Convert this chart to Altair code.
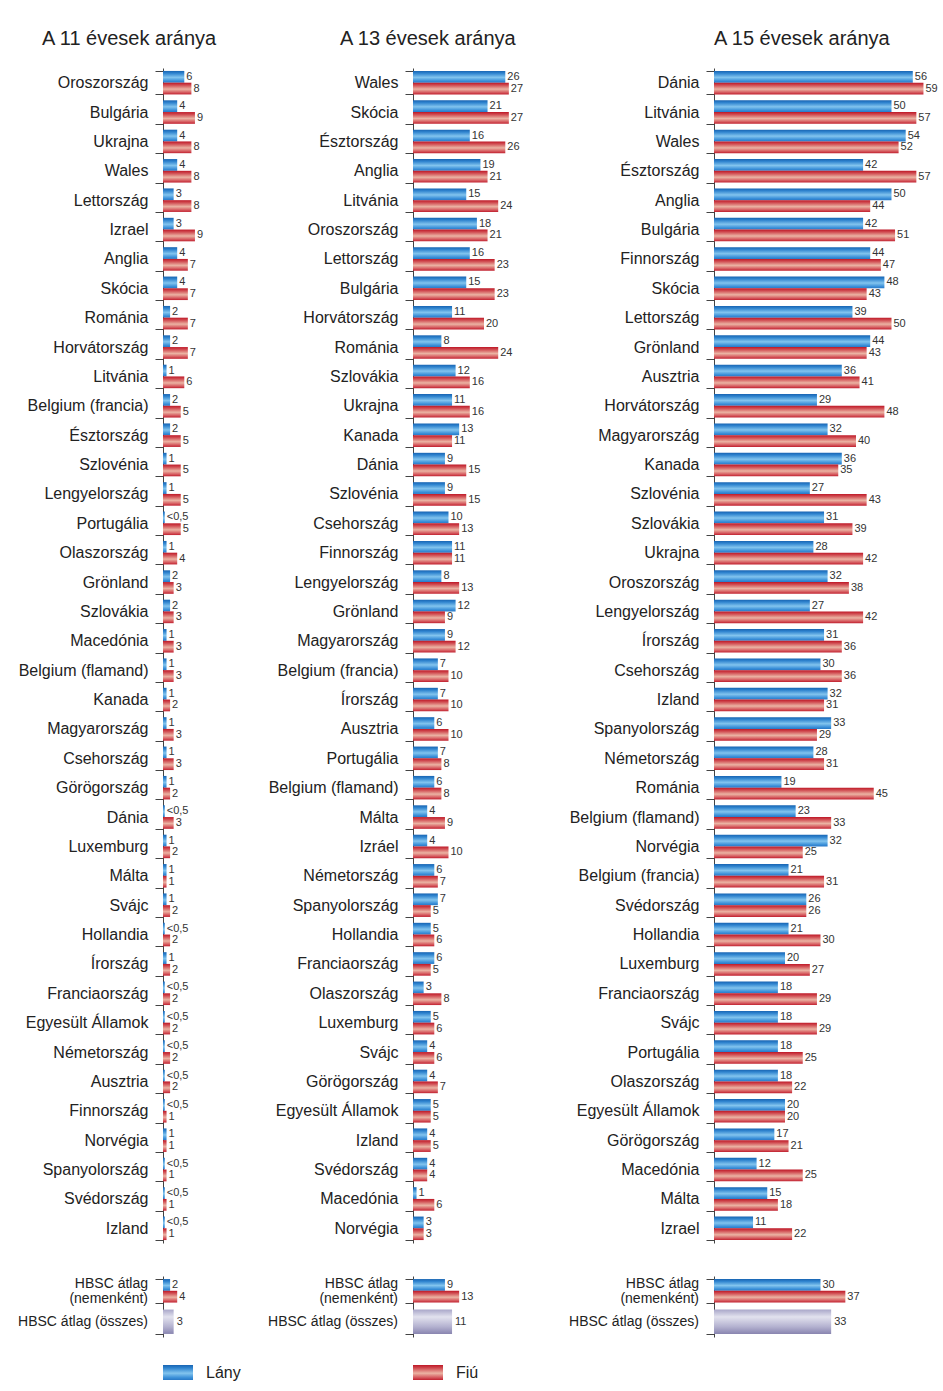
import altair as alt
import pandas as pd

FONT = "Liberation Sans"
LT = "<0,5"
GENDERS = ["Lány", "Fiú"]

titles = ["A 11 évesek aránya", "A 13 évesek aránya", "A 15 évesek aránya"]

c11 = ["Oroszország", "Bulgária", "Ukrajna", "Wales", "Lettország", "Izrael", "Anglia", "Skócia",
       "Románia", "Horvátország", "Litvánia", "Belgium (francia)", "Észtország", "Szlovénia",
       "Lengyelország", "Portugália", "Olaszország", "Grönland", "Szlovákia", "Macedónia",
       "Belgium (flamand)", "Kanada", "Magyarország", "Csehország", "Görögország", "Dánia",
       "Luxemburg", "Málta", "Svájc", "Hollandia", "Írország", "Franciaország", "Egyesült Államok",
       "Németország", "Ausztria", "Finnország", "Norvégia", "Spanyolország", "Svédország", "Izland"]
girls11 = [6, 4, 4, 4, 3, 3, 4, 4, 2, 2, 1, 2, 2, 1, 1, LT, 1, 2, 2, 1,
           1, 1, 1, 1, 1, LT, 1, 1, 1, LT, 1, LT, LT, LT, LT, LT, 1, LT, LT, LT]
boys11 = [8, 9, 8, 8, 8, 9, 7, 7, 7, 7, 6, 5, 5, 5, 5, 5, 4, 3, 3, 3,
          3, 2, 3, 3, 2, 3, 2, 1, 2, 2, 2, 2, 2, 2, 2, 1, 1, 1, 1, 1]

c13 = ["Wales", "Skócia", "Észtország", "Anglia", "Litvánia", "Oroszország", "Lettország", "Bulgária",
       "Horvátország", "Románia", "Szlovákia", "Ukrajna", "Kanada", "Dánia", "Szlovénia", "Csehország",
       "Finnország", "Lengyelország", "Grönland", "Magyarország", "Belgium (francia)", "Írország",
       "Ausztria", "Portugália", "Belgium (flamand)", "Málta", "Izráel", "Németország", "Spanyolország",
       "Hollandia", "Franciaország", "Olaszország", "Luxemburg", "Svájc", "Görögország",
       "Egyesült Államok", "Izland", "Svédország", "Macedónia", "Norvégia"]
girls13 = [26, 21, 16, 19, 15, 18, 16, 15, 11, 8, 12, 11, 13, 9, 9, 10, 11, 8, 12, 9,
           7, 7, 6, 7, 6, 4, 4, 6, 7, 5, 6, 3, 5, 4, 4, 5, 4, 4, 1, 3]
boys13 = [27, 27, 26, 21, 24, 21, 23, 23, 20, 24, 16, 16, 11, 15, 15, 13, 11, 13, 9, 12,
          10, 10, 10, 8, 8, 9, 10, 7, 5, 6, 5, 8, 6, 6, 7, 5, 5, 4, 6, 3]

c15 = ["Dánia", "Litvánia", "Wales", "Észtország", "Anglia", "Bulgária", "Finnország", "Skócia",
       "Lettország", "Grönland", "Ausztria", "Horvátország", "Magyarország", "Kanada", "Szlovénia",
       "Szlovákia", "Ukrajna", "Oroszország", "Lengyelország", "Írország", "Csehország", "Izland",
       "Spanyolország", "Németország", "Románia", "Belgium (flamand)", "Norvégia", "Belgium (francia)",
       "Svédország", "Hollandia", "Luxemburg", "Franciaország", "Svájc", "Portugália", "Olaszország",
       "Egyesült Államok", "Görögország", "Macedónia", "Málta", "Izrael"]
girls15 = [56, 50, 54, 42, 50, 42, 44, 48, 39, 44, 36, 29, 32, 36, 27, 31, 28, 32, 27, 31,
           30, 32, 33, 28, 19, 23, 32, 21, 26, 21, 20, 18, 18, 18, 18, 20, 17, 12, 15, 11]
boys15 = [59, 57, 52, 57, 44, 51, 47, 43, 50, 43, 41, 48, 40, 35, 43, 39, 42, 38, 42, 36,
          36, 31, 29, 31, 45, 33, 25, 31, 26, 30, 27, 29, 29, 25, 22, 20, 21, 25, 18, 22]

hbsc_cats = ["HBSC átlag|(nemenként)", "HBSC átlag (összes)"]
hbsc_girls = [2, 9, 30]
hbsc_boys = [4, 13, 37]
hbsc_total = [3, 11, 33]

# ---- layout (pixels) ----
PX = 3.55                 # pixels per percentage point
MAIN_H = 1175
HB_H = 61
widths = [70, 120, 220]
extents = [148, 170, 171]
title_dx = [-121, -73, 0]

BLUE = alt.Gradient(gradient="linear", x1=0, x2=0, y1=0, y2=1, stops=[
    alt.GradientStop(color="#1864b2", offset=0),
    alt.GradientStop(color="#2f84cf", offset=0.2),
    alt.GradientStop(color="#82c4ee", offset=0.55),
    alt.GradientStop(color="#3a8fd8", offset=0.85),
    alt.GradientStop(color="#2878c6", offset=1)])
RED = alt.Gradient(gradient="linear", x1=0, x2=0, y1=0, y2=1, stops=[
    alt.GradientStop(color="#be1826", offset=0),
    alt.GradientStop(color="#d04a50", offset=0.2),
    alt.GradientStop(color="#ebb3a3", offset=0.55),
    alt.GradientStop(color="#d4545a", offset=0.85),
    alt.GradientStop(color="#c0202e", offset=1)])
GREY = alt.Gradient(gradient="linear", x1=0, x2=0, y1=0, y2=1, stops=[
    alt.GradientStop(color="#a9a7c9", offset=0),
    alt.GradientStop(color="#e2e2ee", offset=0.3),
    alt.GradientStop(color="#b4b2d0", offset=0.7),
    alt.GradientStop(color="#8985b0", offset=1)])


def num(v):
    return 0.5 if v == LT else v


def lab(v):
    return LT if v == LT else str(v)


def yaxis(extent, labels=True):
    return alt.Axis(title=None, tickBand="extent", tickSize=8, labelPadding=7, labelFontSize=16,
                    labelFont=FONT, labelColor="#222", domainColor="#444", tickColor="#444",
                    minExtent=extent, maxExtent=extent, labelLimit=170, grid=False, labels=labels)


def xenc(width):
    return alt.X("value:Q", scale=alt.Scale(domain=[0, width / PX], nice=False, zero=True), axis=None)


yoff = alt.YOffset("gender:N", sort=GENDERS,
                   scale=alt.Scale(domain=GENDERS, paddingInner=0, paddingOuter=0))


def main_panel(i, countries, girls, boys):
    rows = []
    for c, g, b in zip(countries, girls, boys):
        rows.append(dict(country=c, gender="Lány", value=num(g), label=lab(g)))
        rows.append(dict(country=c, gender="Fiú", value=num(b), label=lab(b)))
    df = pd.DataFrame(rows)
    base = alt.Chart(df).encode(
        y=alt.Y("country:N", sort=countries, scale=alt.Scale(paddingInner=0.2, paddingOuter=0.1),
                axis=yaxis(extents[i])),
        x=xenc(widths[i]),
        yOffset=yoff,
    )
    blue = base.transform_filter(alt.datum.gender == "Lány").mark_bar(fill=BLUE, strokeWidth=0)
    red = base.transform_filter(alt.datum.gender == "Fiú").mark_bar(fill=RED, strokeWidth=0)
    txt = base.mark_text(align="left", baseline="middle", dx=2, fontSize=11, font=FONT,
                         color="#333").encode(text="label:N")
    return alt.layer(blue, red, txt).properties(
        width=widths[i], height=MAIN_H,
        title=alt.Title(titles[i], anchor="start", frame="group", dx=title_dx[i], fontSize=20,
                        font=FONT, fontWeight="normal", color="#222", offset=11))


def hbsc_panel(i):
    df = pd.DataFrame([
        dict(cat=hbsc_cats[0], gender="Lány", value=hbsc_girls[i], label=str(hbsc_girls[i])),
        dict(cat=hbsc_cats[0], gender="Fiú", value=hbsc_boys[i], label=str(hbsc_boys[i])),
        dict(cat=hbsc_cats[1], gender="Össz", value=hbsc_total[i], label=str(hbsc_total[i])),
    ])
    y = alt.Y("cat:N", sort=hbsc_cats, scale=alt.Scale(paddingInner=0.2, paddingOuter=0.1),
              axis=yaxis(extents[i], labels=False))
    base = alt.Chart(df).encode(y=y, x=xenc(widths[i]))
    sexed = base.encode(yOffset=yoff)
    blue = sexed.transform_filter(alt.datum.gender == "Lány").mark_bar(fill=BLUE, strokeWidth=0)
    red = sexed.transform_filter(alt.datum.gender == "Fiú").mark_bar(fill=RED, strokeWidth=0)
    grey = base.transform_filter(alt.datum.gender == "Össz").mark_bar(fill=GREY, strokeWidth=0)
    tsex = sexed.transform_filter(alt.datum.gender != "Össz").mark_text(
        align="left", baseline="middle", dx=2, fontSize=11, font=FONT, color="#333").encode(text="label:N")
    ttot = base.transform_filter(alt.datum.gender == "Össz").mark_text(
        align="left", baseline="middle", dx=3, fontSize=11, font=FONT, color="#333").encode(text="label:N")
    # category labels drawn as text beside the axis (two-line label centred on its band)
    lab2 = base.transform_filter(alt.datum.gender == "Lány").mark_text(
        align="right", baseline="line-bottom", lineBreak="|", lineHeight=15, fontSize=14,
        font=FONT, color="#222").encode(x=alt.value(-15), text="cat:N")
    lab1 = base.transform_filter(alt.datum.gender == "Össz").mark_text(
        align="right", baseline="middle", fontSize=14, font=FONT, color="#222").encode(
        x=alt.value(-15), text="cat:N")
    return alt.layer(blue, red, grey, tsex, ttot, lab2, lab1).properties(width=widths[i], height=HB_H)


def legend_row():
    df = pd.DataFrame({"gender": GENDERS, "row": ["r", "r"]})
    base = alt.Chart(df).encode(
        x=alt.X("gender:N", sort=GENDERS,
                scale=alt.Scale(domain=GENDERS, paddingInner=0.88, paddingOuter=0, align=0), axis=None),
        y=alt.Y("row:N", scale=alt.Scale(paddingInner=0, paddingOuter=0),
                axis=alt.Axis(labels=False, ticks=False, domain=False, title=None, grid=False,
                              minExtent=extents[0], maxExtent=extents[0])),
    )
    blue = base.transform_filter(alt.datum.gender == "Lány").mark_bar(fill=BLUE, strokeWidth=0)
    red = base.transform_filter(alt.datum.gender == "Fiú").mark_bar(fill=RED, strokeWidth=0)
    txt = base.mark_text(align="left", baseline="middle", dx=28, fontSize=16, font=FONT,
                         color="#222").encode(text="gender:N")
    return alt.layer(blue, red, txt).properties(width=280, height=15)


mains = alt.hconcat(
    main_panel(0, c11, girls11, boys11),
    main_panel(1, c13, girls13, boys13),
    main_panel(2, c15, girls15, boys15),
    spacing=10,
)
hbscs = alt.hconcat(hbsc_panel(0), hbsc_panel(1), hbsc_panel(2), spacing=10)

body = alt.vconcat(mains, hbscs, spacing=33)

chart = alt.vconcat(body, legend_row(), spacing=27).properties(
    padding={"left": 15, "top": 29, "right": 4, "bottom": 4},
    background="white",
).configure(font=FONT).configure_view(strokeWidth=0)

chart.save("out.html", embed_options={"renderer": "svg", "actions": False})
